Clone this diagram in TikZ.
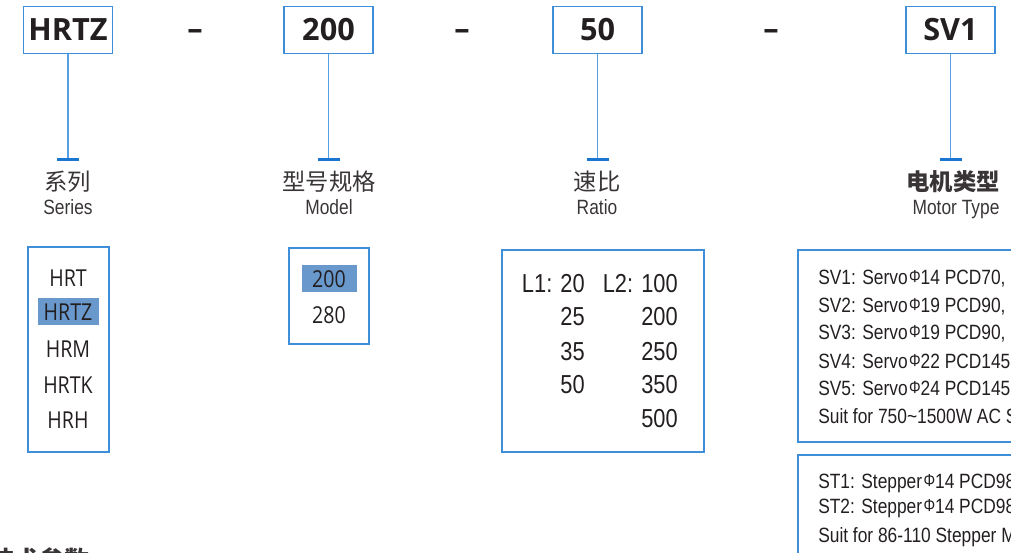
\documentclass[tikz,border=0pt]{standalone}
\usepackage{fontspec}
\usepackage{xcolor}
\usetikzlibrary{positioning}
\setmainfont{Open Sans}
\newfontfamily\cnfont{Noto Sans CJK SC}
\newfontfamily\narrowfont[FakeStretch=0.84]{Liberation Sans}
\newfontfamily\itemfont[FakeStretch=0.84]{Open Sans}
\definecolor{boxblue}{RGB}{62,142,218}
\definecolor{stemblue}{RGB}{84,160,226}
\definecolor{barblue}{RGB}{26,118,208}
\definecolor{pick}{RGB}{104,152,204}
\definecolor{ink}{RGB}{35,31,32}
\newcommand\diam{\kern1pt{\fontsize{13}{13}\selectfont\raisebox{1pt}{Φ}}}

\begin{document}
\begin{tikzpicture}[
  x=0.75pt,
  y=-0.75pt,
  codebox/.style={draw=boxblue, line width=1.2pt, minimum width=66.75pt, minimum height=35.25pt, inner sep=0pt, text=ink, font=\fontsize{23}{23}\selectfont\bfseries},
  joiner/.style={anchor=base, inner sep=0pt, text=ink, font=\fontsize{23}{23}\selectfont\bfseries},
  stem/.style={draw=stemblue, line width=1.2pt},
  tbar/.style={draw=barblue, line width=2.2pt},
  cnlabel/.style={inner sep=0pt, text=ink!90, font=\cnfont\fontsize{17.5}{17.5}\selectfont},
  enlabel/.style={anchor=base, inner sep=0pt, text=ink!90, font=\narrowfont\fontsize{15.5}{15.5}\selectfont},
  listbox/.style={draw=boxblue, line width=1.1pt},
  item/.style={anchor=base, inner sep=0pt, text=ink, font=\itemfont\fontsize{17.5}{17.5}\selectfont},
  picked/.style={fill=pick, minimum height=20.25pt},
  ratio/.style={anchor=base east, inner sep=0pt, text=ink, font=\narrowfont\fontsize{19.5}{19.5}\selectfont},
  motor/.style={anchor=base west, inner sep=0pt, text=ink, font=\narrowfont\fontsize{15.5}{15.5}\selectfont}
]
\useasboundingbox (0,0) rectangle (1011,553);
\clip (0,0) rectangle (1011,553);
\foreach \nm/\x/\txt in {series/68/HRTZ, model/328.5/200, speed/597.5/50, drive/950.5/SV1} {
  \node[codebox] (\nm) at (\x,30) {\txt};
  \coordinate (\nm-end) at (\x,159.5);
  \draw[stem] (\nm.south) -- (\nm-end);
  \draw[tbar] (\nm-end) ++(-11,0) -- ++(22,0);
}
\foreach \x [count=\i] in {195,462,771} {
  \node[joiner] (dash-\i) at (\x,39) {\textendash};
}
\foreach \nm/\x/\cn/\en in {series/68/系列/Series, model/329/型号规格/Model, speed/597/速比/Ratio} {
  \node[cnlabel] (\nm-cn) at (\x,182) {\cn};
  \node[enlabel] (\nm-en) at (\x,214) {\en};
}
\node[cnlabel] (drive-cn) at (953,182) {\bfseries 电机类型};
\node[enlabel] (drive-en) at (956,214) {Motor Type};
\draw[listbox] (28,247) rectangle (109,452);
\foreach \y/\txt/\nm in {286/HRT/hrt, 357/HRM/hrm, 393/HRTK/hrtk, 428/HRH/hrh} {
  \node[item] (\nm) at (68,\y) {\txt};
}
\node[item, picked, minimum width=45.75pt] (hrtz) at (68,320) {HRTZ};
\draw[listbox] (289,248) rectangle (369,344);
\node[item, picked, minimum width=41.25pt] (m200) at (329,287) {200};
\node[item] (m280) at (329,323) {280};
\draw[listbox] (502,250) rectangle (704,452);
\foreach \y/\lone/\ltwo [count=\i] in {292/{L1: 20}/{L2: 100}, 325/25/200, 360/35/250, 393/50/350} {
  \node[ratio] (lone-\i) at (585,\y) {\lone};
  \node[ratio] (ltwo-\i) at (678,\y) {\ltwo};
}
\node[ratio] (ltwo-5) at (678,427) {500};
\draw[listbox] (798,250) rectangle (1030,442);
\foreach \y/\txt [count=\i] in {284/{SV1: Servo\diam14 PCD70,}, 312/{SV2: Servo\diam19 PCD90,}, 339/{SV3: Servo\diam19 PCD90,}, 368/{SV4: Servo\diam22 PCD145}, 395/{SV5: Servo\diam24 PCD145}, 423/{Suit for 750\textasciitilde1500W AC S}} {
  \node[motor] (sv-\i) at (818,\y) {\txt};
}
\draw[listbox] (798,455) rectangle (1030,570);
\foreach \y/\txt [count=\i] in {488/{ST1: Stepper\diam14 PCD98}, 513/{ST2: Stepper\diam14 PCD98}, 542/{Suit for 86-110 Stepper M}} {
  \node[motor] (st-\i) at (818,\y) {\txt};
}
\node[cnlabel, anchor=base west, font=\cnfont\fontsize{18.75}{18.75}\selectfont] (spec-title) at (-11,569) {\bfseries 技术参数};
\end{tikzpicture}
\end{document}
